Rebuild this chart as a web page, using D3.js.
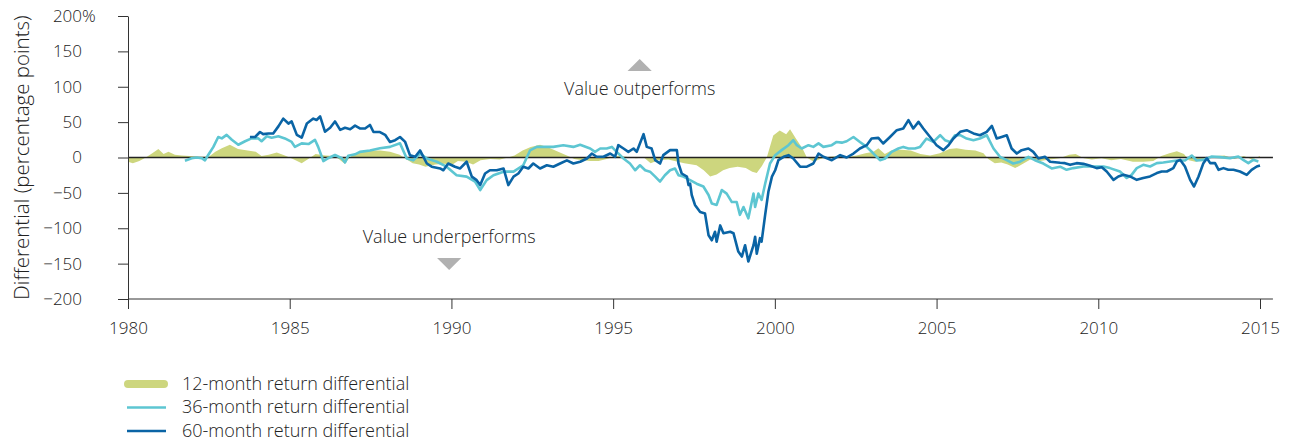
<!DOCTYPE html>
<html>
<head>
<meta charset="utf-8">
<script src="https://cdn.jsdelivr.net/npm/d3@7"></script>
<style>
  body { margin: 0; background: #fff; }
  text { font-family: "Open Sans", "Liberation Sans", sans-serif; font-weight: 300; fill: #222; }
</style>
</head>
<body>
<svg id="chart" width="1289" height="442"></svg>
<script>
// [year, differential in percentage points]
var diff12 = [
  [1980.0,-6],[1980.15,-8],[1980.35,-5],[1980.55,0],[1980.75,6],[1980.94,12],[1981.1,5],[1981.25,8],
  [1981.45,4],[1981.66,3],[1981.9,2],[1982.2,1],[1982.5,1],[1982.7,8],[1982.9,13],[1983.15,18],
  [1983.4,12],[1983.7,10],[1983.95,8],[1984.13,2],[1984.35,4],[1984.6,7],[1984.85,3],[1985.1,-2],
  [1985.37,-8],[1985.55,-3],[1985.8,5],[1986.1,3],[1986.4,2],[1986.7,-9],[1986.9,2],[1987.2,8],
  [1987.5,10],[1987.8,10],[1988.1,8],[1988.4,4],[1988.6,-2],[1988.8,-8],[1989.0,-10],[1989.2,-13],
  [1989.5,-10],[1989.8,-9],[1990.0,-11],[1990.2,-5],[1990.45,-6],[1990.67,-10],[1990.9,-4],[1991.2,-2],
  [1991.5,-3],[1991.75,0],[1991.95,3],[1992.2,10],[1992.45,15],[1992.74,18],[1993.0,14],[1993.3,8],
  [1993.57,3],[1993.8,-2],[1994.05,-4],[1994.3,-5],[1994.55,-5],[1994.8,-2],[1995.1,2],[1995.4,1],
  [1995.7,-1],[1995.95,0],[1996.16,-8],[1996.4,-4],[1996.7,-3],[1996.9,-5],[1997.2,-8],[1997.58,-11],
  [1997.8,-18],[1998.0,-27],[1998.2,-24],[1998.4,-18],[1998.6,-15],[1998.85,-13],[1999.1,-15],[1999.3,-20],
  [1999.44,-22],[1999.6,-12],[1999.75,0],[1999.95,31],[2000.15,38],[2000.35,33],[2000.47,40],[2000.65,27],
  [2000.85,13],[2000.99,0],[2001.2,-6],[2001.4,-2],[2001.7,1],[2002.0,2],[2002.3,1],[2002.53,3],
  [2002.8,6],[2003.05,8],[2003.2,13],[2003.4,5],[2003.6,10],[2003.9,11],[2004.2,10],[2004.5,5],
  [2004.8,3],[2005.1,6],[2005.4,12],[2005.62,13],[2005.9,11],[2006.2,10],[2006.45,6],[2006.6,-2],
  [2006.8,-8],[2007.0,-7],[2007.2,-10],[2007.43,-15],[2007.7,-8],[2007.9,-3],[2008.2,-5],[2008.5,-3],
  [2008.8,-1],[2009.1,4],[2009.3,5],[2009.55,-1],[2009.8,-3],[2010.1,-1],[2010.4,-4],[2010.7,-2],
  [2011.07,-6],[2011.4,-6],[2011.7,-5],[2011.95,2],[2012.2,6],[2012.43,9],[2012.65,5],[2012.8,-4],
  [2013.0,-6],[2013.3,-3],[2013.6,2],[2013.9,3],[2014.2,-2],[2014.5,2],[2014.75,-3],[2015.0,2]
];

var diff36 = [
  [1981.76,-4.5],[1981.97,-1],[1982.12,0],[1982.28,-1],[1982.38,-4],[1982.48,3.5],[1982.64,15],[1982.79,29],
  [1982.9,27],[1983.05,32],[1983.21,25],[1983.41,18],[1983.62,23],[1983.82,27],[1984.03,27],[1984.13,23],
  [1984.29,30],[1984.44,28],[1984.65,30],[1984.85,27],[1985.06,22],[1985.16,15],[1985.37,20],[1985.58,19],
  [1985.78,25],[1985.88,15],[1986.04,-5],[1986.19,-1],[1986.4,3.5],[1986.61,-1],[1986.71,-7],[1986.81,2.6],
  [1987.02,4.5],[1987.17,8],[1987.48,10],[1987.79,13],[1988.1,15],[1988.41,20],[1988.62,-1.4],[1988.82,-4],
  [1989.03,5.6],[1989.24,-1.4],[1989.55,-6],[1989.85,-13],[1990.16,-25],[1990.47,-27],[1990.73,-34],[1990.89,-46],
  [1991.09,-32],[1991.3,-25],[1991.61,-20],[1991.92,-20],[1992.22,-11],[1992.43,10],[1992.64,15],[1992.95,15],
  [1993.15,15],[1993.46,17.4],[1993.77,15],[1993.98,18],[1994.29,12.7],[1994.44,8],[1994.6,12.7],[1994.8,12.7],
  [1994.96,15],[1995.11,8],[1995.32,-1.4],[1995.52,-8.5],[1995.68,-18],[1995.83,-11],[1995.99,-18],[1996.14,-20],
  [1996.3,-27],[1996.45,-34],[1996.6,-25],[1996.76,-18],[1996.91,-15.5],[1997.02,-25],[1997.17,-27],[1997.38,-32],
  [1997.58,-37],[1997.79,-41],[1997.95,-53],[1998.05,-65],[1998.2,-67],[1998.36,-46],[1998.51,-51],[1998.67,-63],
  [1998.82,-63],[1998.92,-81],[1999.03,-70],[1999.18,-86],[1999.34,-51],[1999.39,-70],[1999.49,-51],[1999.59,-60],
  [1999.7,-37],[1999.85,-8.5],[2000.01,3.3],[2000.21,10.4],[2000.42,17.4],[2000.57,24.5],[2000.68,17.4],[2000.83,12.7],
  [2001.04,17.4],[2001.19,15],[2001.35,20],[2001.5,15],[2001.76,17.4],[2001.91,22],[2002.07,21],[2002.22,23],
  [2002.43,29],[2002.63,22],[2002.84,15],[2003.05,5.6],[2003.25,-3.8],[2003.41,-1.4],[2003.61,8],[2003.82,12.7],
  [2003.97,15],[2004.13,12.7],[2004.33,12.7],[2004.49,15],[2004.69,26.8],[2004.9,22],[2005.11,31.5],[2005.26,24.5],
  [2005.42,22],[2005.57,31.5],[2005.73,31.5],[2005.93,26.8],[2006.14,24.5],[2006.34,26.8],[2006.55,31.5],[2006.76,12.7],
  [2006.96,1],[2007.17,-3.8],[2007.37,-8.5],[2007.58,-6],[2007.84,1],[2008.04,-3.8],[2008.3,-8.5],[2008.56,-15.5],
  [2008.82,-13],[2009.02,-17.4],[2009.23,-15],[2009.54,-12.7],[2009.85,-12.7],[2010.16,-12.7],[2010.36,-15],[2010.67,-19.8],
  [2010.88,-29],[2011.03,-24.5],[2011.19,-15],[2011.39,-10.4],[2011.6,-12.7],[2011.81,-8],[2012.01,-7],[2012.22,-5.6],
  [2012.43,-4.2],[2012.68,-4.2],[2012.89,2.8],[2013.04,-4.2],[2013.25,-3.3],[2013.51,1.4],[2013.77,0.5],[2014.07,-1],
  [2014.33,1.4],[2014.48,-3.3],[2014.64,-8],[2014.79,-3.3],[2014.95,-5.6]
];

var diff60 = [
  [1983.77,29],[1983.93,29],[1984.08,36],[1984.18,33],[1984.34,34],[1984.49,34],[1984.65,44],[1984.8,55],
  [1984.96,48],[1985.06,51],[1985.22,32],[1985.37,28],[1985.53,48],[1985.73,55],[1985.83,53],[1985.94,58],
  [1986.09,36.5],[1986.25,42],[1986.4,51],[1986.56,39],[1986.71,42],[1986.87,40],[1987.02,45],[1987.17,41],
  [1987.33,41],[1987.48,46],[1987.59,36],[1987.79,36],[1987.95,32],[1988.1,22],[1988.26,24.5],[1988.41,29],
  [1988.57,22],[1988.72,3],[1988.88,1],[1989.03,10],[1989.24,-8.5],[1989.39,-13],[1989.65,-15.5],[1989.75,-18],
  [1989.9,-8.5],[1990.11,-13],[1990.27,-15.5],[1990.47,-6],[1990.63,-27],[1990.78,-32],[1990.89,-39],[1991.04,-22.6],
  [1991.19,-18],[1991.4,-18],[1991.61,-15.5],[1991.76,-39],[1991.92,-27],[1992.07,-22.6],[1992.22,-13],[1992.38,-15.5],
  [1992.53,-8.5],[1992.74,-15.5],[1992.95,-11],[1993.15,-13],[1993.36,-8.5],[1993.57,-4],[1993.77,-8.5],[1993.98,-6],
  [1994.19,-1.4],[1994.34,5.6],[1994.49,1],[1994.7,1],[1994.91,5.6],[1995.06,1],[1995.16,17.4],[1995.32,12.7],
  [1995.47,8],[1995.63,12.7],[1995.73,8],[1995.94,33],[1996.04,15],[1996.19,12.7],[1996.3,-3.8],[1996.45,-8.5],
  [1996.55,3.3],[1996.76,10.4],[1996.97,10.4],[1997.02,-8.5],[1997.12,-22.6],[1997.28,-27],[1997.33,-39],[1997.38,-37],
  [1997.43,-53],[1997.53,-67],[1997.69,-77],[1997.84,-79],[1997.95,-110],[1998.05,-117],[1998.15,-105],[1998.2,-119],
  [1998.31,-96],[1998.41,-107],[1998.62,-105],[1998.72,-107],[1998.87,-133],[1998.98,-140],[1999.08,-124],[1999.18,-147],
  [1999.34,-124],[1999.39,-112],[1999.44,-136],[1999.54,-114],[1999.59,-119],[1999.7,-81],[1999.8,-48.5],[1999.91,-27],
  [2000.01,-18],[2000.11,-3.8],[2000.27,1],[2000.42,3.3],[2000.57,-1.4],[2000.78,-13],[2000.99,-13],[2001.19,-8.5],
  [2001.35,5.6],[2001.5,1],[2001.76,-3.8],[2002.02,3.3],[2002.22,0],[2002.43,5.6],[2002.63,12.7],[2002.84,17.4],
  [2002.99,26.8],[2003.2,27.8],[2003.35,19.8],[2003.56,29],[2003.77,38.6],[2003.97,41],[2004.13,52.8],[2004.28,41],
  [2004.44,50.4],[2004.59,41],[2004.8,29],[2005.0,17.4],[2005.21,10.4],[2005.37,17.4],[2005.52,26.8],[2005.73,36.3],
  [2005.93,38.6],[2006.14,34],[2006.34,31.5],[2006.55,36.3],[2006.71,44.7],[2006.86,26.8],[2007.01,29],[2007.17,31.5],
  [2007.32,12.7],[2007.48,5.6],[2007.63,10.4],[2007.84,12.7],[2007.99,8],[2008.15,-1.4],[2008.35,1],[2008.51,-6],
  [2008.82,-7.5],[2008.97,-8],[2009.13,-10.4],[2009.33,-8],[2009.54,-9],[2009.75,-11.8],[2009.95,-15],[2010.11,-13.7],
  [2010.26,-19.8],[2010.47,-31.6],[2010.62,-26.8],[2010.78,-24.5],[2010.98,-26.8],[2011.19,-31.6],[2011.39,-29],[2011.6,-26.8],
  [2011.81,-22],[2011.96,-19.8],[2012.12,-19.8],[2012.32,-15],[2012.43,-5.6],[2012.53,-3.3],[2012.68,-12.7],[2012.84,-31.6],
  [2012.96,-41],[2013.1,-26.8],[2013.25,-8],[2013.36,-1],[2013.46,-8],[2013.61,-8],[2013.72,-17.4],[2013.87,-15],
  [2014.02,-17.4],[2014.18,-17.4],[2014.38,-19.8],[2014.59,-24.5],[2014.74,-17.4],[2014.9,-12.7],[2015.0,-11.3]
];

var yTicks = [-200, -150, -100, -50, 0, 50, 100, 150, 200];
var xTicks = [1980, 1985, 1990, 1995, 2000, 2005, 2010, 2015];
var seriesNames = ["12-month return differential", "36-month return differential", "60-month return differential"];
var seriesColors = ["#cdd67e", "#5dc6d2", "#0a64a5"];

var svg = d3.select("#chart");

var x = d3.scaleLinear().domain([1980, 2015]).range([128, 1260]);
var y = d3.scaleLinear().domain([-200, 200]).range([299, 16]);

// 12-month as filled area against zero
var area = d3.area()
  .x(d => x(d[0]))
  .y0(y(0))
  .y1(d => y(d[1]));

svg.append("path")
  .datum(diff12)
  .attr("fill", seriesColors[0])
  .attr("d", area);

// zero line
svg.append("line")
  .attr("x1", x(1980)).attr("x2", x(2015.4))
  .attr("y1", y(0)).attr("y2", y(0))
  .attr("stroke", "#222")
  .attr("stroke-width", 1.5);

var line = d3.line()
  .x(d => x(d[0]))
  .y(d => y(d[1]));

[diff36, diff60].forEach(function(s, i) {
  svg.append("path")
    .datum(s)
    .attr("fill", "none")
    .attr("stroke", seriesColors[i + 1])
    .attr("stroke-width", 2.6)
    .attr("stroke-linejoin", "round")
    .attr("d", line);
});

// axes
var yAxis = svg.append("g")
  .attr("transform", "translate(" + x(1980) + ",0)")
  .call(d3.axisLeft(y).tickValues(yTicks).tickSize(10).tickSizeOuter(0).tickPadding(36)
    .tickFormat(d3.format("d")));

yAxis.selectAll("text").style("font-size", "17px");
yAxis.selectAll(".tick").filter(d => d === 200)
  .append("text")
  .attr("x", -46).attr("dy", "0.32em")
  .attr("text-anchor", "start")
  .style("font-size", "17px")
  .attr("fill", "#222")
  .text("%");

var xAxis = svg.append("g")
  .attr("transform", "translate(0," + y(-200) + ")")
  .call(d3.axisBottom(x).tickValues(xTicks).tickSize(10).tickSizeOuter(0).tickPadding(13)
    .tickFormat(d3.format("d")));
xAxis.select(".domain").remove();
xAxis.append("line")
  .attr("x1", x(1980)).attr("x2", x(2015.4))
  .attr("stroke", "#333");
xAxis.selectAll("text").style("font-size", "17px");

svg.selectAll(".domain, .tick line").attr("stroke", "#333");

svg.append("text")
  .attr("transform", "translate(22," + y(0) + ") rotate(-90)")
  .attr("text-anchor", "middle")
  .attr("dy", "0.35em")
  .style("font-size", "20.5px")
  .text("Differential (percentage points)");

// annotations
var tri = d3.symbol().type(d3.symbolTriangle).size(150);
svg.append("path")
  .attr("d", tri())
  .attr("transform", "translate(" + x(1995.82) + ",67) scale(1.3,0.75)")
  .attr("fill", "#b1b1b1");
svg.append("text")
  .attr("x", x(1995.82)).attr("y", 95)
  .attr("text-anchor", "middle")
  .style("font-size", "18px")
  .text("Value outperforms");

svg.append("path")
  .attr("d", tri())
  .attr("transform", "translate(" + x(1989.93) + ",262) scale(1.3,-0.75)")
  .attr("fill", "#b1b1b1");
svg.append("text")
  .attr("x", x(1989.93)).attr("y", 243)
  .attr("text-anchor", "middle")
  .style("font-size", "18px")
  .text("Value underperforms");

// legend
var legend = svg.append("g").attr("transform", "translate(124,384)");
var items = legend.selectAll("g").data(seriesNames).enter().append("g")
  .attr("transform", (d, i) => "translate(0," + i * 23.5 + ")");
items.append("line")
  .attr("x1", (d, i) => i === 0 ? 4 : 3)
  .attr("x2", (d, i) => i === 0 ? 40 : 42)
  .attr("stroke", (d, i) => seriesColors[i])
  .attr("stroke-width", (d, i) => i === 0 ? 8 : 2.6)
  .attr("stroke-linecap", (d, i) => i === 0 ? "round" : "butt");
items.append("text")
  .attr("x", 58).attr("dy", "0.33em")
  .style("font-size", "18px")
  .text(d => d);
</script>
</body>
</html>
